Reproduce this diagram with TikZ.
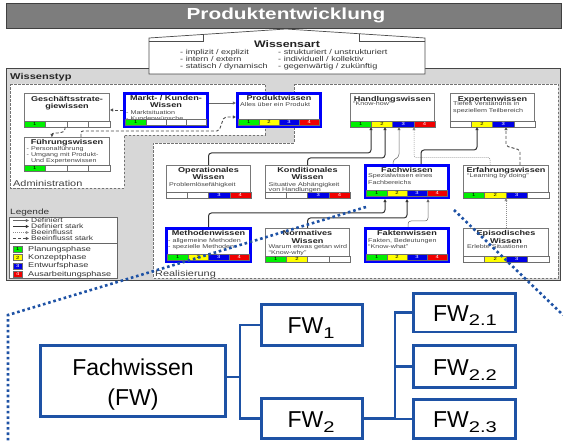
\documentclass[tikz,border=0pt]{standalone}
\usepackage{fontspec}
\setmainfont{Liberation Sans}
\newfontfamily\widesans[FakeStretch=1.3]{Liberation Sans}
\usetikzlibrary{arrows.meta,calc}

\definecolor{panelfill}{RGB}{215,215,215}
\definecolor{paneledge}{RGB}{70,70,70}
\definecolor{titlefill}{RGB}{125,125,125}
\definecolor{boxedge}{RGB}{120,120,120}
\definecolor{cellgray}{RGB}{110,110,110}
\definecolor{hiblue}{RGB}{0,0,250}
\definecolor{pgreen}{RGB}{0,240,0}
\definecolor{pyellow}{RGB}{255,255,0}
\definecolor{pblue}{RGB}{0,0,230}
\definecolor{pred}{RGB}{240,0,0}
\definecolor{fwblue}{RGB}{30,82,165}
\definecolor{inktitle}{RGB}{35,35,35}
\definecolor{inkbody}{RGB}{70,70,70}

\tikzset{
  gbox/.style={draw=boxedge, line width=0.6pt, fill=white, inner sep=0pt},
  bbox/.style={draw=hiblue, line width=2.6pt, fill=white, inner sep=0pt},
  ktitle/.style={font={\widesans\bfseries\fontsize{7}{7.4}\selectfont}, text=inktitle, align=center, inner sep=0pt, anchor=north},
  kbody/.style={font={\widesans\fontsize{5.5}{6.3}\selectfont}, text=inkbody, align=left, inner sep=0pt, anchor=north west},
  cellnum/.style={font={\widesans\fontsize{4.5}{5}\selectfont}, inner sep=0pt},
  ktip/.style={-{Triangle[length=3.2pt,width=3pt]}},
  cdef/.style={draw=black!60, line width=0.5pt, rounded corners=3pt, ktip},
  cdefs/.style={draw=black!80, line width=1pt, rounded corners=3pt, ktip},
  cinf/.style={draw=black!45, line width=0.5pt, dash pattern=on 1pt off 1pt, rounded corners=2pt, ktip},
  cinfs/.style={draw=black!70, line width=0.9pt, dash pattern=on 3pt off 2pt, rounded corners=2pt, ktip},
  regionbox/.style={draw=black!55, line width=0.6pt, dash pattern=on 2.5pt off 1.5pt, fill=white},
  plabel/.style={font={\widesans\fontsize{8.4}{8.4}\selectfont}, text=black!75, anchor=west, inner sep=0pt},
  legtext/.style={font={\widesans\fontsize{6.5}{6.5}\selectfont}, text=black!80, anchor=west, inner sep=0pt},
  phtext/.style={font={\widesans\fontsize{7}{7}\selectfont}, text=black!80, anchor=west, inner sep=0pt},
  phsq/.style={draw=cellgray, line width=0.4pt, minimum width=8.5pt, minimum height=6pt, inner sep=0pt, font={\widesans\fontsize{4.5}{5}\selectfont}},
  fwbox/.style={draw=fwblue, line width=2.8pt, fill=white, inner sep=0pt},
  fwtext/.style={font={\fontsize{23}{30}\selectfont}, inner sep=0pt, align=center},
  fwline/.style={draw=fwblue, line width=2.8pt},
  zoomline/.style={draw=fwblue, line width=2.6pt, dash pattern=on 2.6pt off 2.8pt},
}

% knowledge box from its outer corners: name, x0, y0, x1, y1, style, half border
\newcommand\kb[7]{%
  \pgfmathsetmacro\kbw{#4-#2-2*#7}%
  \pgfmathsetmacro\kbh{#5-#3-2*#7}%
  \node[#6, minimum width=\kbw pt, minimum height=\kbh pt] (#1) at ({(#2+#4)/2},{(#3+#5)/2}) {};%
}
% phase bar: name, x0, x1, bottom y, then 0/1 for phases 1..4
\newcommand\pbar[8]{%
  \pgfmathsetmacro\pbw{(#3-#2)/4}%
  \foreach \i/\pbon/\pbcol/\pbtc in {1/#5/pgreen/black,2/#6/pyellow/black,3/#7/pblue/white,4/#8/pred/white}{%
    \pgfmathsetmacro\pxa{#2+(\i-1)*\pbw}%
    \pgfmathsetmacro\pxb{#2+\i*\pbw}%
    \ifnum\pbon=1
      \path[draw=cellgray,line width=0.4pt,fill=\pbcol] (\pxa,#4) rectangle (\pxb,#4-6);
      \node[cellnum,text=\pbtc] (#1-\i) at ({(\pxa+\pxb)/2},#4-3) {\i};
    \else
      \path[draw=cellgray,line width=0.4pt,fill=white] (\pxa,#4) rectangle (\pxb,#4-6);
    \fi
  }%
}
\newcommand\fwsub[1]{\raisebox{-5pt}{\widesans\fontsize{15.5}{15.5}\selectfont #1}}

\begin{document}
\begin{tikzpicture}[x=1pt,y=-1pt]
\useasboundingbox (0,0) rectangle (563,441);

% ---------- title bar ----------
\node[draw=black!75, line width=0.8pt, fill=titlefill, minimum width=555pt, minimum height=25pt, inner sep=0pt, anchor=north west] (titlebar) at (6,3) {};
\node[font={\widesans\bfseries\fontsize{16}{16}\selectfont}, text=white, inner sep=0pt] (titletext) at (286,15.5) {Produktentwicklung};

% ---------- Wissenstyp panel ----------
\node[draw=paneledge, line width=0.9pt, fill=panelfill, minimum width=554pt, minimum height=212pt, inner sep=0pt, anchor=north west] (panel) at (6,68) {};
\node[font={\widesans\bfseries\fontsize{8.5}{8.5}\selectfont}, text=black!85, anchor=west, inner sep=0pt] (typlabel) at (10,77) {Wissenstyp};

% ---------- Wissensart ----------
\path[draw=black!70, line width=0.7pt, fill=white] (149,74) -- (149,38) -- (286,29) -- (425,38) -- (425,74) -- cycle;
\draw[black!70, line width=0.6pt] (149,41) -- (203,41) -- (203,34.5);
\draw[black!70, line width=0.6pt] (425,41) -- (359,41) -- (359,33.8);
\node[font={\widesans\bfseries\fontsize{9.5}{9.5}\selectfont}, text=inktitle, inner sep=0pt] (arttitle) at (287,44.5) {Wissensart};
\node[font={\widesans\fontsize{7}{7}\selectfont}, text=black!80, align=left, anchor=north west, inner sep=0pt] (artleft) at (180,49.5) {- implizit / explizit\\- intern / extern\\- statisch / dynamisch};
\node[font={\widesans\fontsize{7}{7}\selectfont}, text=black!80, align=left, anchor=north west, inner sep=0pt] (artright) at (278,49.5) {- strukturiert / unstrukturiert\\- individuell / kollektiv\\- gegenwärtig / zukünftig};

% ---------- regions ----------
\path[regionbox] (10,84) -- (265,84) -- (265,135) -- (124,135) -- (124,188) -- (10,188) -- cycle;
\path[regionbox] (294,84) -- (558,84) -- (558,278) -- (153,278) -- (153,143) -- (294,143) -- cycle;
\node[plabel] (admlabel) at (13,183) {Administration};
\node[plabel] (reallabel) at (155,274) {Realisierung};

% ---------- Administration ----------
\kb{gesch}{24}{93}{110}{127}{gbox}{0.3}
\node[ktitle] (gesch-t) at (67,95.8) {Geschäftsstrate-\\giewissen};
\pbar{gesch-p}{24}{110}{127}{1}{0}{0}{0}

\kb{markt}{123}{92}{209}{128}{bbox}{1.3}
\node[ktitle] (markt-t) at (166,95.2) {Markt- / Kunden-\\Wissen};
\node[kbody] (markt-b) at (126,110.2) {- Marktsituation\\- Kundenwünsche};
\pbar{markt-p}{125.6}{206.4}{125.4}{1}{0}{0}{0}

\kb{prod}{236}{92}{322}{128}{bbox}{1.3}
\node[ktitle] (prod-t) at (279,95.2) {Produktwissen};
\node[kbody] (prod-b) at (240,102.2) {Alles über ein Produkt};
\pbar{prod-p}{238.6}{319.4}{125.4}{1}{1}{1}{1}

\kb{fuehr}{24}{137}{110}{171}{gbox}{0.3}
\node[ktitle] (fuehr-t) at (67,139.5) {Führungswissen};
\node[kbody, font={\widesans\fontsize{5.5}{5.9}\selectfont}] (fuehr-b) at (26.5,146.8) {- Personalführung\\- Umgang mit Produkt-\\\hphantom{- }Und Expertenwissen};
\pbar{fuehr-p}{24}{110}{171}{1}{0}{0}{0}

% ---------- Realisierung ----------
\kb{hand}{350}{93}{435}{127}{gbox}{0.3}
\node[ktitle] (hand-t) at (392.5,95.8) {Handlungswissen};
\node[kbody] (hand-b) at (353,101.4) {“Know-how”};
\pbar{hand-p}{350}{435}{127}{1}{1}{1}{1}

\kb{exp}{450}{93}{535}{127}{gbox}{0.3}
\node[ktitle] (exp-t) at (492.5,95.8) {Expertenwissen};
\node[kbody, font={\widesans\fontsize{5.5}{7}\selectfont}] (exp-b) at (453,101.4) {Tiefes Verständnis in\\speziellem Teilbereich};
\pbar{exp-p}{450}{535}{127}{0}{1}{1}{0}

\kb{oper}{166}{165}{251}{198}{gbox}{0.3}
\node[ktitle] (oper-t) at (208.5,167) {Operationales\\Wissen};
\node[kbody] (oper-b) at (169,182) {Problemlösefähigkeit};
\pbar{oper-p}{166}{251}{198}{0}{0}{1}{1}

\kb{kond}{265}{165}{350}{198}{gbox}{0.3}
\node[ktitle] (kond-t) at (307.5,167) {Konditionales\\Wissen};
\node[kbody, font={\widesans\fontsize{5.5}{5.4}\selectfont}] (kond-b) at (268.5,182) {Situative Abhängigkeit\\von Handlungen};
\pbar{kond-p}{265}{350}{198}{0}{0}{1}{1}

\kb{fach}{364}{164}{450}{199}{bbox}{1.3}
\node[ktitle] (fach-t) at (407,166.8) {Fachwissen};
\node[kbody, font={\widesans\fontsize{5.5}{6.8}\selectfont}] (fach-b) at (368,173.7) {Spezialwissen eines\\Fachbereichs};
\pbar{fach-p}{366.6}{447.4}{196.4}{1}{1}{1}{1}

\kb{erf}{463}{165}{549}{198}{gbox}{0.3}
\node[ktitle] (erf-t) at (506,167) {Erfahrungswissen};
\node[kbody] (erf-b) at (467,173.7) {“Learning by doing”};
\pbar{erf-p}{463}{549}{198}{1}{1}{1}{0}

\kb{meth}{165}{227}{252}{263}{bbox}{1.3}
\node[ktitle] (meth-t) at (208.5,230.2) {Methodenwissen};
\node[kbody, font={\widesans\fontsize{5.5}{6}\selectfont}] (meth-b) at (168,238) {- allgemeine Methoden\\- spezielle Methoden};
\pbar{meth-p}{167.6}{249.4}{260.4}{1}{1}{1}{1}

\kb{norm}{265}{228}{350}{262}{gbox}{0.3}
\node[ktitle] (norm-t) at (307.5,230.5) {Normatives\\Wissen};
\node[kbody, font={\widesans\fontsize{5.5}{5.6}\selectfont}] (norm-b) at (268.5,244.8) {Warum etwas getan wird\\“Know-why”};
\pbar{norm-p}{265}{350}{262}{1}{1}{0}{0}

\kb{fakt}{364}{227}{450}{263}{bbox}{1.3}
\node[ktitle] (fakt-t) at (407,230.2) {Faktenwissen};
\node[kbody, font={\widesans\fontsize{5.5}{6}\selectfont}] (fakt-b) at (368,238) {Fakten, Bedeutungen\\“Know-what”};
\pbar{fakt-p}{366.6}{447.4}{260.4}{1}{1}{1}{1}

\kb{epi}{463}{228}{549}{262}{gbox}{0.3}
\node[ktitle] (epi-t) at (506,230.5) {Episodisches\\Wissen};
\node[kbody] (epi-b) at (467,244.8) {Erlebte Situationen};
\pbar{epi-p}{463}{549}{262}{0}{1}{1}{0}

% ---------- connectors: Administration ----------
\draw[cdef] (markt.east |- 0,103) -- (prod.west |- 0,103);
\draw[cinfs] (81,0 |- fuehr.north) -- (81,131) -- (219,131) -- (224,117) -- (prod.west |- 0,117);
\draw[cinfs] (markt.west |- 0,110) -- (gesch.east |- 0,110);
\draw[cinfs] (65,0 |- gesch.south) -- (65,131) -- (60,133) -- (52,133) -- (52,0 |- fuehr.north);

% ---------- connectors: Realisierung ----------
\draw[cdefs] (oper.north) |- (371,153) -- (371,0 |- hand.south);
\draw[cdefs] (kond.north) |- (385,158) -- (385,0 |- hand.south);
\draw[cdef] (393,0 |- fach.north) -- (393,160) -- (399,157) -- (399,0 |- hand.south);
\draw[cinf] (490,0 |- erf.north) |- (414,157.5) -- (414,0 |- hand.south);
\draw[cdefs] (421,0 |- fach.north) |- (477,150) -- (477,0 |- exp.south);
\draw[cinfs] (520,0 |- erf.north) -- (520,150) -- (506,146) -- (506,0 |- exp.south);
\draw[cdefs] (meth.north) |- (385,213) -- (385,0 |- fach.south);
\draw[cdefs] (norm.north) |- (407,218) -- (407,0 |- fach.south);
\draw[cdef] (408,0 |- fakt.north) |- (428,221) -- (428,0 |- fach.south);
\draw[cinf] (epi.north) -- (erf.south);

% ---------- legend ----------
\node[font={\widesans\fontsize{7.7}{7.7}\selectfont}, text=black!80, anchor=west, inner sep=0pt] (legtitle) at (10,212.5) {Legende};
\node[draw=black!60, line width=0.6pt, fill=white, minimum width=108pt, minimum height=61pt, anchor=north west, inner sep=0pt] (legend) at (9,217) {};
\node[legtext] (lg1) at (31,220.5) {Definiert};
\node[legtext] (lg2) at (31,226.5) {Definiert stark};
\node[legtext] (lg3) at (31,232.5) {Beeinflusst};
\node[legtext] (lg4) at (31,238.5) {Beeinflusst stark};
\draw[cdef] ($(lg1.west)+(-18,0)$) -- ($(lg1.west)+(-2,0)$);
\draw[cdefs] ($(lg2.west)+(-18,0)$) -- ($(lg2.west)+(-2,0)$);
\draw[cinf] ($(lg3.west)+(-18,0)$) -- ($(lg3.west)+(-2,0)$);
\draw[cinfs] ($(lg4.west)+(-18,0)$) -- ($(lg4.west)+(-2,0)$);
\draw[black!60, line width=0.5pt] (legend.west |- 0,243.5) -- (legend.east |- 0,243.5);
\node[phsq, fill=pgreen] (ph1) at (17.7,249.2) {1};
\node[phsq, fill=pyellow] (ph2) at (17.7,257.6) {2};
\node[phsq, fill=pblue, text=white] (ph3) at (17.7,266) {3};
\node[phsq, fill=pred, text=white] (ph4) at (17.7,274.3) {4};
\node[phtext] (pt1) at (28,249.2) {Planungsphase};
\node[phtext] (pt2) at (28,257.6) {Konzeptphase};
\node[phtext] (pt3) at (28,266) {Entwurfsphase};
\node[phtext] (pt4) at (28,274.3) {Ausarbeitungsphase};

% ---------- breakdown of Fachwissen ----------
\node[fwbox, minimum width=185.2pt, minimum height=71.2pt] (fw) at (133,381) {};
\node[fwtext, anchor=north] (fw-t) at (133,358.2) {Fachwissen\\(FW)};
\node[fwbox, minimum width=101.2pt, minimum height=40.6pt] (fw1) at (312,325) {};
\node[fwtext, anchor=base] (fw1-t) at (311,333.3) {FW\fwsub{1}};
\node[fwbox, minimum width=101.2pt, minimum height=40pt] (fw2) at (312,418.7) {};
\node[fwtext, anchor=base] (fw2-t) at (311,427) {FW\fwsub{2}};
\node[fwbox, minimum width=102.2pt, minimum height=38.8pt] (fw21) at (464.5,312.5) {};
\node[fwtext, anchor=base] (fw21-t) at (465,321) {FW\fwsub{2.1}};
\node[fwbox, minimum width=102.2pt, minimum height=42.2pt] (fw22) at (464.5,366.5) {};
\node[fwtext, anchor=base] (fw22-t) at (465,375) {FW\fwsub{2.2}};
\node[fwbox, minimum width=102.2pt, minimum height=39.2pt] (fw23) at (464.5,419) {};
\node[fwtext, anchor=base] (fw23-t) at (465,427.3) {FW\fwsub{2.3}};

\draw[fwline] (fw.east |- 0,377) -- (240,377);
\draw[fwline] (fw1.west) -- (240,0 |- fw1.west) -- (240,0 |- fw2.west) -- (fw2.west);
\draw[fwline] (fw2.east) -- (395,0 |- fw2.east);
\draw[fwline] (fw21.west) -- (395,0 |- fw21.west) -- (395,0 |- fw23.west) -- (fw23.west);
\draw[fwline] (fw22.west) -- (395,0 |- fw22.west);

% ---------- zoom lines from Fachwissen ----------
\coordinate (zl1) at (8,315);
\coordinate (zl2) at (8,441);
\coordinate (zr) at (563,315);
\draw[zoomline] ($(fach.south west)+(2,8)$) -- (zl1) -- (zl2);
\draw[zoomline] ($(fach.south east)+(4,11)$) -- (zr);
\end{tikzpicture}
\end{document}
